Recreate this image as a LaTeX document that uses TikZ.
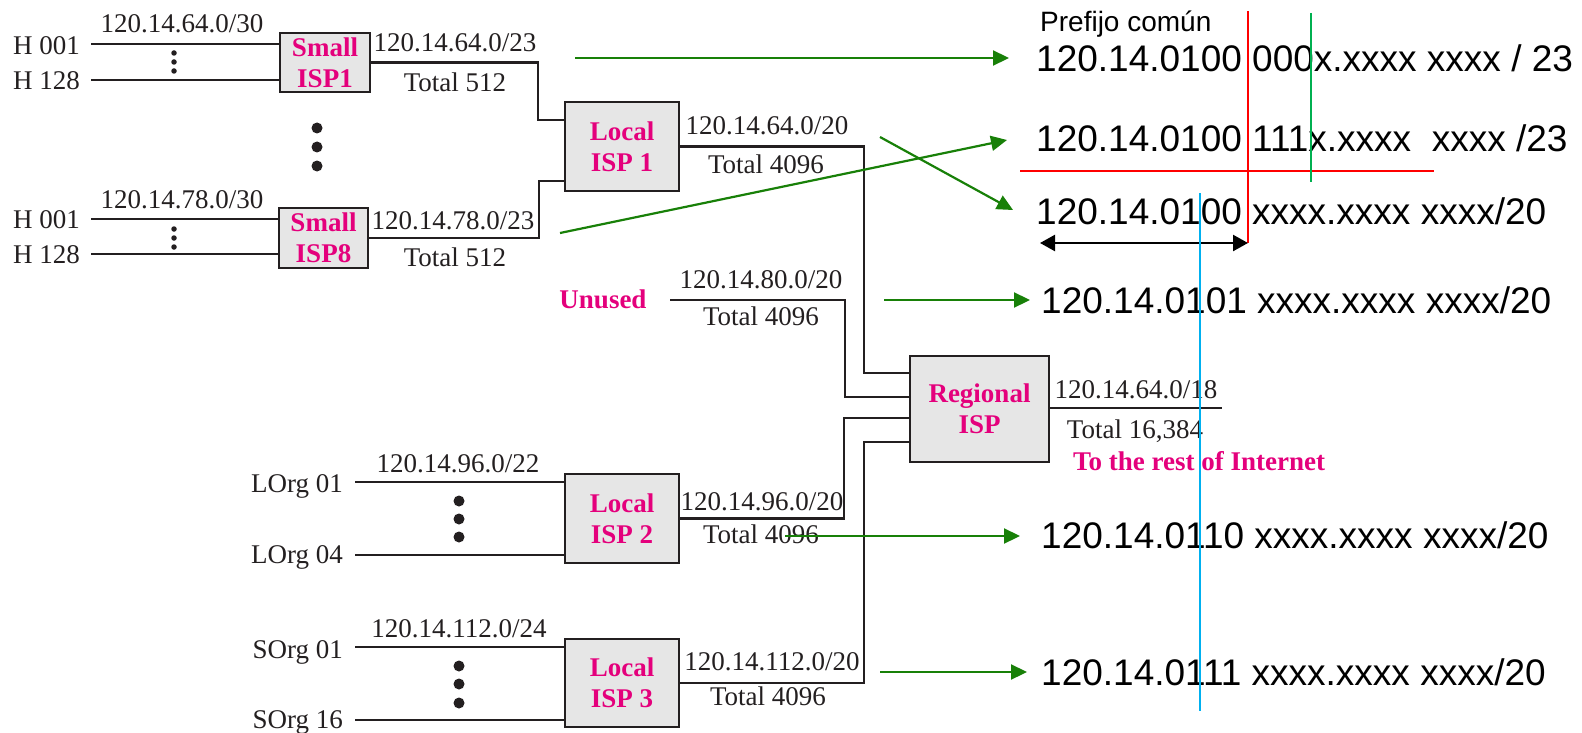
\documentclass[tikz,border=0pt]{standalone}
\usepackage{fontspec}
\setmainfont{Liberation Serif}
\newfontfamily\arialf{Liberation Sans}
\usetikzlibrary{arrows.meta,calc}
\definecolor{mag}{RGB}{228,0,124}
\definecolor{boxgray}{RGB}{230,230,230}
\definecolor{arrgreen}{RGB}{24,128,8}
\definecolor{vgreen}{RGB}{0,176,80}
\definecolor{skyblue}{RGB}{0,176,240}
\definecolor{ink}{RGB}{35,31,32}
\begin{document}
\begin{tikzpicture}[x=1pt,y=-1pt,
  lbl/.style={inner sep=0pt, anchor=base, font=\fontsize{27}{29}\selectfont, text=ink},
  hostlbl/.style={lbl, anchor=base east},
  isp/.style={draw=ink, line width=2.4pt, fill=boxgray, inner sep=0pt, align=center, text=mag, font=\fontsize{27}{31}\selectfont\bfseries},
  maglbl/.style={lbl, text=mag, font=\fontsize{27}{29}\selectfont\bfseries},
  wire/.style={draw=ink, line width=2.7pt},
  garrow/.style={draw=arrgreen, line width=2.2pt, -{Triangle[length=16pt,width=15pt]}},
  bits/.style={inner sep=0pt, anchor=base west, font=\arialf\fontsize{37}{40}\selectfont},
  smalldot/.style={circle, fill=ink, inner sep=0pt, minimum size=5.5pt},
  bigdot/.style={circle, fill=ink, inner sep=0pt, minimum size=11pt},
]
\useasboundingbox (0,0) rectangle (1582,733);

% ---------- boxes ----------
\node[isp, minimum width=90pt, minimum height=59pt] (sisp1) at (325,62.5) {Small\\ISP1};
\node[isp, minimum width=89pt, minimum height=60pt] (sisp8) at (323.5,238) {Small\\ISP8};
\node[isp, minimum width=114pt, minimum height=89pt] (lisp1) at (622,146.5) {Local\\ISP 1};
\node[isp, minimum width=114pt, minimum height=89pt] (lisp2) at (622,518.5) {Local\\ISP 2};
\node[isp, minimum width=114pt, minimum height=88pt] (lisp3) at (622,683) {Local\\ISP 3};
\node[isp, minimum width=139pt, minimum height=106pt] (reg) at (979.5,409) {Regional\\ISP};

% ---------- Small ISP1 group ----------
\node[hostlbl] (h1a) at (80,55) {H 001};
\node[hostlbl] (h1b) at (80,90) {H 128};
\coordinate (h1aS) at (91,44);
\coordinate (h1bS) at (91,80);
\draw[wire] (h1aS) -- (h1aS -| sisp1.west);
\draw[wire] (h1bS) -- (h1bS -| sisp1.west);
\node[lbl] (n1) at (182,33) {120.14.64.0/30};
\node[smalldot] (d1a) at (174,53) {};
\node[smalldot] (d1b) at (174,62) {};
\node[smalldot] (d1c) at (174,71) {};
\node[lbl] (s1p) at (455,52) {120.14.64.0/23};
\node[lbl] (s1t) at (455,92) {Total 512};

% ---------- big dots ----------
\node[bigdot] (bd1) at (317,128) {};
\node[bigdot] (bd2) at (317,147) {};
\node[bigdot] (bd3) at (317,166) {};

% ---------- Small ISP8 group ----------
\node[hostlbl] (h8a) at (80,228) {H 001};
\node[hostlbl] (h8b) at (80,263) {H 128};
\coordinate (h8aS) at (91,219);
\coordinate (h8bS) at (91,254);
\draw[wire] (h8aS) -- (h8aS -| sisp8.west);
\draw[wire] (h8bS) -- (h8bS -| sisp8.west);
\node[lbl] (n8) at (182,208) {120.14.78.0/30};
\node[smalldot] (d8a) at (174,229) {};
\node[smalldot] (d8b) at (174,238) {};
\node[smalldot] (d8c) at (174,247) {};
\node[lbl] (s8p) at (453,229) {120.14.78.0/23};
\node[lbl] (s8t) at (455,266) {Total 512};

% ---------- connections to Local ISP1 ----------
\coordinate (k1) at (538,120);
\coordinate (k8) at (539,181);
\draw[wire] (sisp1.east) -| (k1) -- (k1 -| lisp1.west);
\draw[wire] (sisp8.east) -| (k8) -- (k8 -| lisp1.west);
\node[lbl] (l1p) at (767,135) {120.14.64.0/20};
\node[lbl] (l1t) at (766,173) {Total 4096};

% ---------- Unused ----------
\node[maglbl] (unused) at (603,308) {Unused};
\node[lbl] (up) at (761,288) {120.14.80.0/20};
\node[lbl] (ut) at (761,325) {Total 4096};
\coordinate (u0) at (670,300);

% ---------- Local ISP2 group ----------
\node[hostlbl] (lo1) at (343,492) {LOrg 01};
\node[hostlbl] (lo4) at (343,563) {LOrg 04};
\coordinate (lo1S) at (355,482);
\coordinate (lo4S) at (355,555);
\draw[wire] (lo1S) -- (lo1S -| lisp2.west);
\draw[wire] (lo4S) -- (lo4S -| lisp2.west);
\node[lbl] (n2) at (458,472) {120.14.96.0/22};
\node[bigdot] (d2a) at (459,501) {};
\node[bigdot] (d2b) at (459,519) {};
\node[bigdot] (d2c) at (459,537) {};
\node[lbl] (l2p) at (762,510) {120.14.96.0/20};
\node[lbl] (l2t) at (761,543) {Total 4096};

% ---------- Local ISP3 group ----------
\node[hostlbl] (so1) at (343,658) {SOrg 01};
\node[hostlbl] (so16) at (343,728) {SOrg 16};
\coordinate (so1S) at (355,647);
\coordinate (so16S) at (355,720);
\draw[wire] (so1S) -- (so1S -| lisp3.west);
\draw[wire] (so16S) -- (so16S -| lisp3.west);
\node[lbl] (n3) at (459,637) {120.14.112.0/24};
\node[bigdot] (d3a) at (459,666) {};
\node[bigdot] (d3b) at (459,684) {};
\node[bigdot] (d3c) at (459,703) {};
\node[lbl] (l3p) at (772,670) {120.14.112.0/20};
\node[lbl] (l3t) at (768,705) {Total 4096};

% ---------- connections to Regional ISP ----------
\coordinate (k2) at (864,373);
\coordinate (k3) at (845,397);
\coordinate (k4) at (844,418);
\coordinate (k5) at (864,442);
\draw[wire] (lisp1.east) -| (k2) -- (k2 -| reg.west);
\draw[wire] (u0) -| (k3) -- (k3 -| reg.west);
\draw[wire] (lisp2.east) -| (k4) -- (k4 -| reg.west);
\draw[wire] (lisp3.east) -| (k5) -- (k5 -| reg.west);
\coordinate (out) at (1222,408);
\draw[wire] (reg.east |- out) -- (out);
\node[lbl] (rp) at (1136,398) {120.14.64.0/18};
\node[lbl] (rt) at (1135,438) {Total 16,384};
\node[maglbl] (rest) at (1199,470) {To the rest of Internet};

% ---------- binary rows ----------
\node[inner sep=0pt, anchor=base west, font=\arialf\fontsize{28}{30}\selectfont] (pref) at (1040,32) {Prefijo común};
\node[bits] (r1) at (1036,72) {120.14.0100 000x.xxxx xxxx / 23};
\node[bits] (r2) at (1036,152) {120.14.0100 111x.xxxx \ xxxx /23};
\node[bits] (r3) at (1036,224) {120.14.0100 xxxx.xxxx xxxx/20};
\node[bits] (r4) at (1041,313) {120.14.0101 xxxx.xxxx xxxx/20};
\node[bits] (r5) at (1041,548) {120.14.0110 xxxx.xxxx xxxx/20};
\node[bits] (r6) at (1041,685) {120.14.0111 xxxx.xxxx xxxx/20};

% ---------- green arrows ----------
\coordinate (a1s) at (575,58);   \coordinate (a1e) at (1009,58);
\coordinate (a2s) at (560,233);  \coordinate (a2e) at (1007,140);
\coordinate (a3s) at (880,137);  \coordinate (a3e) at (1013,210);
\coordinate (a4s) at (884,300);  \coordinate (a4e) at (1030,300);
\coordinate (a5s) at (785,536);  \coordinate (a5e) at (1020,536);
\coordinate (a6s) at (880,672);  \coordinate (a6e) at (1027,672);
\draw[garrow] (a1s) -- (a1e);
\draw[garrow] (a2s) -- (a2e);
\draw[garrow] (a3s) -- (a3e);
\draw[garrow] (a4s) -- (a4e);
\draw[garrow] (a5s) -- (a5e);
\draw[garrow] (a6s) -- (a6e);

% ---------- marker lines ----------
\coordinate (rvT) at (1248,11);  \coordinate (rvB) at (1248,243);
\coordinate (rhL) at (1020,171); \coordinate (rhR) at (1434,171);
\coordinate (gvT) at (1311,13);  \coordinate (gvB) at (1311,182);
\coordinate (bvT) at (1200,193); \coordinate (bvB) at (1200,711);
\coordinate (daL) at (1040,243);
\draw[red, line width=2.7pt] (rvT) -- (rvB);
\draw[red, line width=2.7pt] (rhL) -- (rhR);
\draw[vgreen, line width=2.7pt] (gvT) -- (gvB);
\draw[black, line width=2.4pt, {Triangle[length=15pt,width=16pt]}-{Triangle[length=15pt,width=16pt]}] (daL) -- (rvB);
\draw[skyblue, line width=1.8pt] (bvT) -- (bvB);
\end{tikzpicture}
\end{document}
